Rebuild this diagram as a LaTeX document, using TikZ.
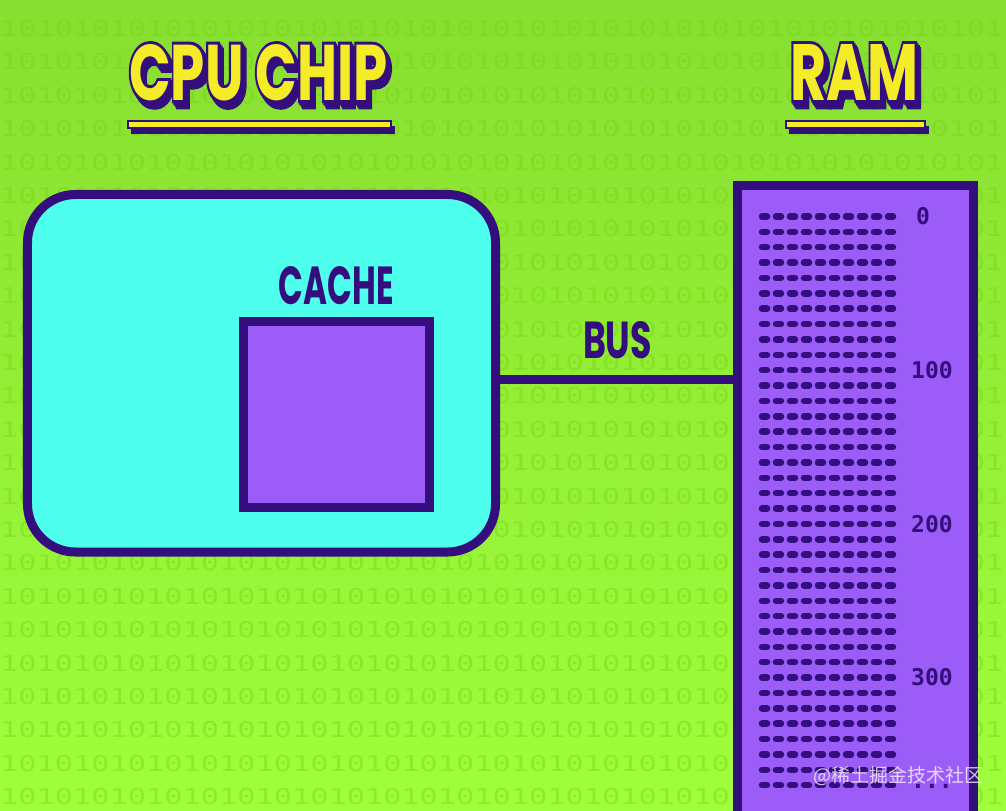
\documentclass[tikz,border=0pt]{standalone}
\usepackage{fontspec}
\usepackage{graphicx}
\newfontfamily\titlefont{Poppins}
\newfontfamily\titleoutline{Poppins}[BoldFeatures={FakeBold=8}]
\newfontfamily\labelmono{DejaVu Sans Mono}
\newfontfamily\cjkfont{Noto Sans CJK SC}
\definecolor{bgtop}{RGB}{136,222,48}
\definecolor{bgbot}{RGB}{160,255,60}
\definecolor{binclr}{RGB}{110,215,15}
\definecolor{dpurple}{RGB}{52,14,124}
\definecolor{cyanfill}{RGB}{78,255,238}
\definecolor{memfill}{RGB}{155,92,247}
\definecolor{ttlyellow}{RGB}{245,236,40}
\newcommand{\shadowtitle}[6]{%
  \foreach \sx/\sy in {4/6,2.7/4,1.3/2,0/0}{%
    \node[titleshade] at ({#2+\sx},{#3+\sy}) {\resizebox{#4bp}{#5bp}{\titleoutline\bfseries #6}};
  }%
  \node[titletop] (#1) at (#2,#3) {\resizebox{#4bp}{#5bp}{\titlefont\bfseries #6}};
}
\tikzset{
  panel/.style={draw=dpurple, line width=9bp, inner sep=0pt, outer sep=0pt},
  cpubox/.style={panel, fill=cyanfill, rounded corners=48bp, minimum width=468bp, minimum height=357.5bp},
  cachebox/.style={panel, fill=memfill, minimum width=186.5bp, minimum height=186bp},
  rambox/.style={panel, fill=memfill, minimum width=236bp, minimum height=644bp},
  busline/.style={draw=dpurple, line width=9bp},
  boldlabel/.style={text=dpurple, inner sep=0pt},
  titleshade/.style={anchor=north west, inner sep=0pt, text=dpurple},
  titletop/.style={anchor=north west, inner sep=0pt, text=ttlyellow},
  underyellow/.style={fill=ttlyellow, draw=dpurple, line width=1.5bp},
  addr/.style={text=dpurple, inner sep=0pt, font=\labelmono\bfseries\fontsize{23bp}{23bp}\selectfont},
  cellrow/.style={draw=dpurple, line width=6.5bp, line cap=round, dash pattern=on 5bp off 9bp},
  bindigits/.style={anchor=west, inner sep=0pt, text=binclr, opacity=0.42, font=\labelmono\fontsize{30.3bp}{30bp}\selectfont},
  watermark/.style={anchor=east, inner sep=0pt, text=white, opacity=0.75, font=\cjkfont\fontsize{19bp}{19bp}\selectfont}
}
\begin{document}
\begin{tikzpicture}[x=1bp,y=-1bp]
\useasboundingbox (0,0) rectangle (1006,811);
\clip (0,0) rectangle (1006,811);
% background
\shade[top color=bgtop, bottom color=bgbot] (0,0) rectangle (1006,811);
\foreach \r in {0,...,23}{
  \node[bindigits] at (0,{28.5+33.4*\r}) {\scalebox{1}[0.72]{1010101010101010101010101010101010101010101010101010101}};
}
% titles
\shadowtitle{cputitle}{129}{44}{258}{56}{CPU CHIP}
\fill[dpurple] (131,126) rectangle (395,134);
\filldraw[underyellow] (128,121) rectangle (391,128);
\shadowtitle{ramtitle}{790}{44}{128}{56}{RAM}
\fill[dpurple] (789,126) rectangle (929,134);
\filldraw[underyellow] (786,121) rectangle (925,128);
% CPU chip and cache
\node[cpubox] (cpu) at (261.5,373.25) {};
\node[cachebox] (cache) at (336.25,414.5) {};
\node[boldlabel] (cachelbl) at (336.5,286) {\resizebox{115bp}{38bp}{\titlefont\bfseries CACHE}};
% RAM
\node[rambox] (ram) at (855.5,508) {};
\foreach \n in {0,...,37}{
  \draw[cellrow] (762,{216.5+15.37*\n}) -- (894,{216.5+15.37*\n});
}
\node[addr] (a0) at (923,216.5) {0};
\node[addr] (a100) at (932,{216.5+15.37*10}) {100};
\node[addr] (a200) at (932,{216.5+15.37*20}) {200};
\node[addr] (a300) at (932,{216.5+15.37*30}) {300};
\node[addr, anchor=base] (adots) at (932,{216.5+15.37*37+3}) {...};
% bus
\coordinate (busy) at (0,379.5);
\draw[busline] (cpu.east |- busy) -- (ram.west |- busy);
\node[boldlabel] (buslbl) at (617.5,340.5) {\resizebox{69bp}{37bp}{\titlefont\bfseries BUS}};
% watermark
\node[watermark] (wm) at (984,776) {@稀土掘金技术社区};
\end{tikzpicture}
\end{document}
